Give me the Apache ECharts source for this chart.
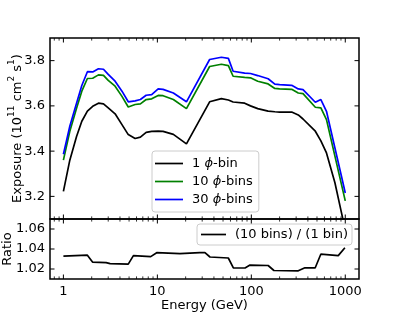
<!DOCTYPE html>
<html>
<head>
<meta charset="utf-8">
<script src="https://cdn.jsdelivr.net/npm/echarts@6/dist/echarts.min.js"></script>
<style>html,body{margin:0;padding:0;background:#fff}#c{width:399px;height:319px}</style>
</head>
<body>
<div id="c"></div>
<script>
// ---- data ----
const energy = [1, 1.17, 1.38, 1.57, 1.8, 2.05, 2.36, 2.67, 3.0, 3.55, 4.2, 4.9, 5.8, 6.6, 7.6, 8.7, 10.2, 11.5, 14.8, 20.4, 36, 48, 57, 64, 85, 98, 117, 151, 178, 200, 269, 316, 355, 480, 550, 631, 776, 912, 1000];
const exposure1 = [3.222, 3.36, 3.465, 3.532, 3.577, 3.598, 3.612, 3.609, 3.591, 3.565, 3.517, 3.473, 3.456, 3.462, 3.483, 3.487, 3.488, 3.487, 3.474, 3.432, 3.618, 3.632, 3.626, 3.617, 3.612, 3.600, 3.588, 3.577, 3.574, 3.572, 3.573, 3.56, 3.542, 3.488, 3.445, 3.392, 3.26, 3.127, 3.05];
const exposure10 = [3.36, 3.488, 3.59, 3.665, 3.721, 3.722, 3.737, 3.735, 3.713, 3.687, 3.642, 3.595, 3.606, 3.609, 3.628, 3.631, 3.646, 3.645, 3.628, 3.588, 3.774, 3.784, 3.778, 3.731, 3.726, 3.724, 3.709, 3.697, 3.677, 3.675, 3.673, 3.657, 3.654, 3.594, 3.591, 3.539, 3.378, 3.252, 3.18];
const exposure30 = [3.386, 3.51, 3.612, 3.69, 3.751, 3.75, 3.764, 3.762, 3.739, 3.709, 3.665, 3.618, 3.622, 3.628, 3.647, 3.65, 3.675, 3.673, 3.657, 3.618, 3.805, 3.815, 3.81, 3.753, 3.745, 3.743, 3.734, 3.72, 3.696, 3.694, 3.691, 3.675, 3.672, 3.616, 3.628, 3.576, 3.414, 3.288, 3.215];
const ratioEnergy = [1, 1.8, 2.05, 2.85, 3.14, 4.9, 5.56, 8.5, 9.84, 17.4, 28.4, 32.1, 36.3, 56.9, 64.4, 85.7, 96.8, 151, 174, 316, 372, 479, 549, 842, 991];
const ratio = [1.0328, 1.0338, 1.0268, 1.0264, 1.0254, 1.0249, 1.0334, 1.0324, 1.0363, 1.0353, 1.0363, 1.0363, 1.032, 1.031, 1.0212, 1.021, 1.0239, 1.0235, 1.0185, 1.0182, 1.0212, 1.0212, 1.0348, 1.0334, 1.0413];
const seriesNames = ['1 {i|ϕ}-bin', '10 {i|ϕ}-bins', '30 {i|ϕ}-bins'];
const ratioName = '(10 bins) / (1 bin)';
const xMajorTicks = [1, 10, 100, 1000];
const xMinorTicks = [0.8, 0.9, 2, 3, 4, 5, 6, 7, 8, 9, 20, 30, 40, 50, 60, 70, 80, 90, 200, 300, 400, 500, 600, 700, 800, 900];
const yTicksTop = [3.2, 3.4, 3.6, 3.8];
const yTicksBottom = [1.02, 1.04, 1.06];

// ---- chart ----
const FONT = 'DejaVu Sans';
const LW = 1.7;
const chart = echarts.init(document.getElementById('c'), null, {renderer: 'canvas'});
const pair = (xs, ys) => xs.map((x, i) => [x, ys[i]]);

function xTickRender(params, api) {
  const cs = params.coordSys;
  const x = api.coord([api.value(0), api.value(1)])[0];
  const major = api.value(2) === 1;
  const len = major ? 4.5 : 2.6;
  const st = {stroke: '#000', lineWidth: major ? 1 : 0.8};
  return {type: 'group', children: [
    {type: 'line', shape: {x1: x, y1: cs.y + cs.height, x2: x, y2: cs.y + cs.height - len}, style: st},
    {type: 'line', shape: {x1: x, y1: cs.y, x2: x, y2: cs.y + len}, style: st}
  ]};
}
function yTickRender(params, api) {
  const cs = params.coordSys;
  const y = api.coord([api.value(0), api.value(1)])[1];
  const st = {stroke: '#000', lineWidth: 1};
  return {type: 'group', children: [
    {type: 'line', shape: {x1: cs.x, y1: y, x2: cs.x + 4.5, y2: y}, style: st},
    {type: 'line', shape: {x1: cs.x + cs.width, y1: y, x2: cs.x + cs.width - 4.5, y2: y}, style: st}
  ]};
}
const xTickData = (yRef) => xMajorTicks.map(v => [v, yRef, 1]).concat(xMinorTicks.map(v => [v, yRef, 0]));
const yTickData = (arr) => arr.map(v => [10, v]);

const txt = {fontFamily: FONT, fontSize: 13, color: '#000'};
const xBase = {
  type: 'log', logBase: 10, min: 0.72, max: 1400,
  axisLine: {show: false}, axisTick: {show: false}, splitLine: {show: false}, minorTick: {show: false}
};
const yBase = {
  type: 'value', axisLine: {show: false}, axisTick: {show: false}, splitLine: {show: false}
};
const gridBase = {show: true, borderColor: '#000', borderWidth: 1.5, backgroundColor: 'transparent', containLabel: false, outerBoundsMode: 'none'};

chart.setOption({
  animation: false,
  backgroundColor: '#fff',
  textStyle: {fontFamily: FONT},
  grid: [
    Object.assign({left: 50, top: 38, width: 309, height: 181}, gridBase),
    Object.assign({left: 50, top: 219, width: 309, height: 60}, gridBase)
  ],
  xAxis: [
    Object.assign({}, xBase, {gridIndex: 0, axisLabel: {show: false}}),
    Object.assign({}, xBase, {gridIndex: 1,
      axisLabel: Object.assign({}, txt, {customValues: xMajorTicks, margin: 6, formatter: v => String(Math.round(v))}),
      name: 'Energy (GeV)', nameLocation: 'middle', nameGap: 20, nameMoveOverlap: false, nameTextStyle: txt})
  ],
  yAxis: [
    Object.assign({}, yBase, {gridIndex: 0, min: 3.1, max: 3.9,
      axisLabel: Object.assign({}, txt, {customValues: yTicksTop, margin: 5, formatter: v => v.toFixed(1)}),
      name: '{a|Exposure (10}{s|11}{a| cm}{s|2}{a| s}{s|1}{a|)}', nameLocation: 'middle', nameGap: 26, nameMoveOverlap: false,
      nameTextStyle: {fontFamily: FONT, color: '#000', rich: {
        a: {fontFamily: FONT, fontSize: 13, color: '#000', verticalAlign: 'bottom', lineHeight: 17},
        s: {fontFamily: FONT, fontSize: 9, color: '#000', verticalAlign: 'top', lineHeight: 17}
      }}}),
    Object.assign({}, yBase, {gridIndex: 1, min: 1.01, max: 1.07,
      axisLabel: Object.assign({}, txt, {customValues: yTicksBottom, margin: 5, formatter: v => v.toFixed(2)}),
      name: 'Ratio', nameLocation: 'middle', nameGap: 36, nameMoveOverlap: false, nameTextStyle: txt})
  ],
  legend: [
    {
      data: seriesNames, orient: 'vertical', left: 152, top: 151,
      icon: 'rect', itemWidth: 28, itemHeight: 1.7, itemGap: 3,
      padding: [5, 6, 5, 3],
      backgroundColor: 'rgba(255,255,255,0.85)', borderColor: '#cccccc', borderWidth: 1, borderRadius: 3,
      textStyle: Object.assign({}, txt, {lineHeight: 15, padding: [0, 0, 0, 4], rich: {i: {fontFamily: FONT, fontSize: 13, lineHeight: 15, fontStyle: 'italic', color: '#000'}}}),
      selectedMode: false
    },
    {
      data: [ratioName], orient: 'vertical', right: 47, top: 224,
      icon: 'rect', itemWidth: 25, itemHeight: 1.7, padding: [3, 4, 3, 4],
      backgroundColor: 'rgba(255,255,255,0.85)', borderColor: '#cccccc', borderWidth: 1, borderRadius: 3,
      textStyle: Object.assign({}, txt, {lineHeight: 15, padding: [0, 0, 0, 4]}),
      selectedMode: false
    }
  ],
  series: [
    {name: seriesNames[0], type: 'line', xAxisIndex: 0, yAxisIndex: 0, data: pair(energy, exposure1), showSymbol: false, symbol: 'none', lineStyle: {color: '#000000', width: LW}, itemStyle: {color: '#000000'}},
    {name: seriesNames[1], type: 'line', xAxisIndex: 0, yAxisIndex: 0, data: pair(energy, exposure10), showSymbol: false, symbol: 'none', lineStyle: {color: '#008000', width: LW}, itemStyle: {color: '#008000'}},
    {name: seriesNames[2], type: 'line', xAxisIndex: 0, yAxisIndex: 0, data: pair(energy, exposure30), showSymbol: false, symbol: 'none', lineStyle: {color: '#0000ff', width: LW}, itemStyle: {color: '#0000ff'}},
    {name: ratioName, type: 'line', xAxisIndex: 1, yAxisIndex: 1, data: pair(ratioEnergy, ratio), showSymbol: false, symbol: 'none', lineStyle: {color: '#000000', width: LW}, itemStyle: {color: '#000000'}},
    {type: 'custom', xAxisIndex: 0, yAxisIndex: 0, renderItem: xTickRender, data: xTickData(3.5), silent: true, z: 10, clip: false},
    {type: 'custom', xAxisIndex: 1, yAxisIndex: 1, renderItem: xTickRender, data: xTickData(1.04), silent: true, z: 10, clip: false},
    {type: 'custom', xAxisIndex: 0, yAxisIndex: 0, renderItem: yTickRender, data: yTickData(yTicksTop), silent: true, z: 10, clip: false},
    {type: 'custom', xAxisIndex: 1, yAxisIndex: 1, renderItem: yTickRender, data: yTickData(yTicksBottom), silent: true, z: 10, clip: false}
  ]
});
</script>
</body>
</html>
